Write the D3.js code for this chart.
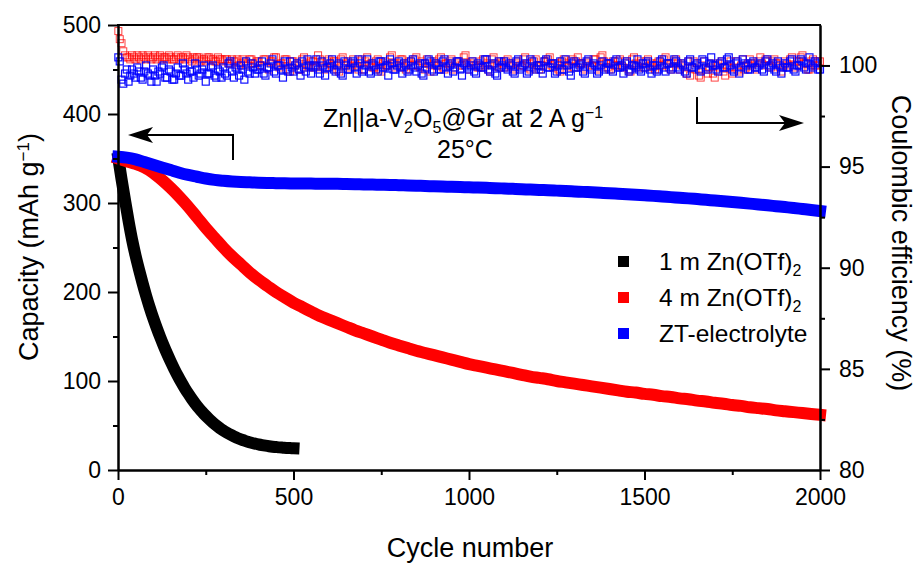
<!DOCTYPE html>
<html>
<head>
<meta charset="utf-8">
<script src="https://cdn.jsdelivr.net/npm/d3@7"></script>
<style>
  html, body { margin: 0; padding: 0; background: #fff; }
  svg text { font-family: "Liberation Sans", Arial, Helvetica, sans-serif; fill: #000; }
</style>
</head>
<body>
<svg id="chart" width="921" height="563"></svg>
<script>
// ---- Discharge capacity (mAh g^-1) ----
// 1 m Zn(OTf)2: cycle 1, then every 10 cycles up to 500
const cap1m = [350, 327, 303, 280, 259, 241, 225, 210, 196, 183,
  171, 160, 149.6, 139.8, 130.6, 121.9, 113.7, 106.0, 98.8, 92.1,
  85.9, 80.1, 74.7, 69.7, 65.1, 60.9, 57.0, 53.4, 50.1, 47.1,
  44.4, 42.0, 39.8, 37.8, 36.0, 34.5, 33.1, 31.8, 30.7, 29.7,
  28.8, 28.0, 27.3, 26.7, 26.2, 25.8, 25.4, 25.1, 24.8, 24.6, 24.4];

// 4 m Zn(OTf)2: cycle 1, then every 25 cycles up to 2000
const cap4m = [350, 347, 344, 340, 334, 326, 317, 307, 296, 284,
  272, 261, 250, 240, 231, 222, 214, 207, 200, 194,
  188, 183, 178, 173, 169, 165, 161, 157, 153.5, 150,
  146.5, 143, 140, 137, 134, 131.5, 129, 126.5, 124, 121.5,
  119, 117, 115, 113, 111, 109, 107, 105, 103.5, 102,
  100, 98.5, 97, 95.5, 94, 92.5, 91, 89.5, 88, 87,
  85.5, 84.5, 83, 82, 80.5, 79.5, 78, 77, 75.5, 74.5,
  73, 72, 70.5, 69.5, 68.5, 67, 66, 65, 64, 63, 62];

// ZT-electrolyte: cycle 1, then every 25 cycles up to 2000
const capZT = [352, 351, 349, 346, 343, 340, 337, 334, 331.5, 329.5,
  327.5, 326, 325, 324.2, 323.6, 323.2, 322.8, 322.5, 322.3, 322.1,
  322, 321.9, 321.8, 321.7, 321.6, 321.5, 321.3, 321.1, 320.9, 320.7,
  320.5, 320.3, 320, 319.7, 319.4, 319.1, 318.8, 318.5, 318.2, 317.9,
  317.6, 317.3, 317, 316.7, 316.3, 315.9, 315.5, 315.1, 314.7, 314.3,
  313.9, 313.5, 313, 312.5, 312, 311.5, 311, 310.4, 309.8, 309.2,
  308.6, 308, 307.3, 306.6, 305.9, 305.2, 304.4, 303.6, 302.8, 302,
  301.1, 300.2, 299.3, 298.4, 297.4, 296.4, 295.4, 294.4, 293.3, 292.2, 291];

// ---- Coulombic efficiency (%): cycle 1, then every 5 cycles up to 2000 ----
const ce4m = [
  101.7, 101.3, 101.1, 100.7, 100.5, 100.4, 100.4, 100.3, 100.5, 100.4, 100.3, 100.5, 100.4, 100.3, 100.5, 100.4, 100.3, 100.5, 100.4, 100.3,
  100.4, 100.5, 100.3, 100.4, 100.5, 100.3, 100.4, 100.4, 100.3, 100.5, 100.4, 100.3, 100.3, 100.4, 100.5, 100.3, 100.4, 100.4, 100.3, 100.5,
  100.4, 100.3, 100.2, 100.4, 100.3, 100.4, 100.4, 100.2, 100.3, 100.3, 100.2, 100.4, 100.4, 100.3, 100.3, 100.2, 100.2, 100.4, 100.3, 100.3,
  100.2, 100.3, 100.3, 100.1, 100.1, 100.3, 100.2, 100.2, 100.3, 100.0, 100.1, 100.3, 100.2, 100.1, 100.0, 100.3, 100.3, 100.1, 100.1, 100.2,
  100.2, 100.0, 100.0, 100.3, 100.3, 99.9, 99.8, 100.2, 100.2, 100.4, 100.4, 100.0, 99.9, 100.1, 100.1, 100.3, 100.3, 99.8, 99.7, 100.2,
  100.2, 100.0, 100.1, 99.8, 99.8, 100.3, 100.4, 100.1, 100.0, 99.9, 100.2, 100.2, 99.9, 100.0, 100.5, 100.3, 100.1, 99.9, 99.8, 100.2,
  100.3, 100.1, 100.0, 100.2, 100.2, 99.8, 99.7, 100.3, 100.4, 100.0, 100.1, 100.2, 99.9, 100.0, 100.3, 100.1, 100.0, 99.8, 100.2, 100.3,
  99.8, 100.2, 100.4, 100.0, 100.1, 99.9, 99.9, 100.2, 100.3, 99.8, 99.7, 100.1, 100.2, 100.0, 100.0, 100.4, 100.5, 100.1, 99.9, 100.0,
  100.1, 100.3, 100.3, 99.9, 99.8, 100.1, 100.2, 100.0, 100.0, 100.3, 100.4, 100.0, 99.9, 100.2, 100.1, 99.8, 100.3, 100.1, 99.7, 100.0,
  100.2, 100.1, 100.0, 100.3, 100.4, 99.9, 99.8, 100.1, 100.1, 100.2, 100.3, 99.8, 99.9, 100.1, 100.2, 100.0, 100.0, 100.4, 100.5, 100.1,
  99.8, 100.1, 100.2, 100.0, 100.0, 99.9, 99.9, 100.2, 100.3, 100.0, 100.1, 99.8, 99.7, 100.3, 100.4, 100.1, 100.0, 99.9, 100.2, 100.1,
  99.9, 100.2, 100.3, 100.0, 100.1, 99.9, 99.8, 100.1, 100.2, 100.0, 100.0, 100.3, 100.4, 100.1, 99.9, 99.8, 100.1, 100.2, 100.3, 100.0,
  99.8, 100.0, 100.0, 100.2, 100.2, 100.3, 100.4, 100.0, 99.9, 100.1, 100.1, 99.8, 99.7, 100.2, 100.3, 100.1, 100.0, 99.9, 100.2, 100.3,
  99.9, 100.2, 100.4, 100.1, 100.1, 99.9, 99.8, 100.1, 100.2, 100.0, 100.0, 100.3, 100.3, 99.8, 99.9, 100.4, 100.5, 100.2, 100.1, 99.9,
  99.8, 100.1, 100.2, 100.0, 100.0, 100.2, 100.3, 100.0, 99.9, 100.2, 100.1, 99.8, 99.7, 100.3, 100.4, 100.1, 100.0, 99.9, 100.2, 100.1,
  99.9, 100.2, 100.3, 100.0, 100.1, 99.9, 99.8, 100.1, 100.2, 100.0, 100.0, 100.3, 100.4, 100.1, 99.9, 99.8, 100.1, 100.2, 100.3, 100.1,
  99.8, 100.0, 100.1, 99.9, 99.6, 100.2, 99.5, 99.9, 100.2, 99.8, 100.1, 99.5, 99.4, 100.0, 100.2, 99.8, 99.6, 99.9, 100.1, 99.6,
  99.4, 100.0, 100.1, 99.9, 100.2, 99.7, 99.5, 100.0, 99.9, 100.2, 99.6, 99.9, 100.2, 99.8, 99.7, 100.0, 100.3, 99.8, 99.9, 100.1,
  100.3, 100.0, 100.1, 99.9, 99.8, 100.2, 100.4, 100.1, 100.0, 100.3, 100.2, 100.0, 99.9, 100.2, 100.3, 100.1, 100.1, 99.9, 99.7, 100.0,
  100.2, 100.1, 100.0, 100.3, 100.4, 100.0, 99.9, 100.2, 100.2, 100.4, 100.5, 100.1, 100.1, 99.8, 99.8, 100.2, 100.3, 100.0, 100.0, 100.2,
  100.2];

const ceZT = [
  100.4, 100.2, 99.3, 99.1, 99.6, 99.8, 99.2, 99.5, 99.8, 99.6, 99.4, 99.9, 99.7, 99.4, 99.3, 99.7, 100.0, 99.6, 99.5, 99.2,
  99.8, 99.5, 99.2, 99.7, 99.6, 99.9, 100.0, 99.4, 99.4, 99.8, 99.7, 99.3, 99.3, 99.6, 99.9, 99.5, 99.5, 100.1, 99.8, 99.6,
  99.3, 99.7, 99.7, 99.4, 100.1, 99.8, 99.5, 99.6, 99.8, 100.0, 99.2, 99.6, 99.6, 99.9, 100.0, 99.5, 99.4, 99.8, 99.7, 99.4,
  99.9, 99.6, 99.5, 100.1, 100.2, 99.7, 99.4, 99.9, 99.8, 99.5, 100.0, 99.8, 99.3, 100.2, 99.7, 99.6, 100.1, 99.9, 99.6, 99.8,
  99.8, 100.0, 100.2, 99.6, 99.5, 99.9, 99.9, 100.1, 100.3, 99.7, 99.6, 100.0, 100.0, 99.8, 99.4, 100.2, 99.8, 99.7, 100.2, 99.9,
  99.7, 100.0, 100.1, 99.8, 99.5, 100.2, 99.9, 99.7, 100.3, 100.0, 99.6, 99.9, 100.0, 100.3, 99.8, 99.6, 100.2, 100.0, 99.5, 99.9,
  99.9, 100.1, 100.3, 99.8, 99.7, 100.0, 100.1, 99.6, 99.5, 100.2, 100.0, 99.8, 99.8, 100.1, 100.2, 99.9, 99.6, 100.3, 100.1, 99.7,
  99.8, 100.0, 100.3, 99.7, 99.6, 100.1, 100.0, 99.8, 99.7, 100.2, 100.2, 99.9, 99.9, 100.0, 99.5, 100.3, 100.1, 99.8, 99.8, 100.0,
  100.2, 99.9, 99.6, 100.1, 100.0, 99.7, 99.8, 100.2, 100.3, 99.9, 99.7, 100.0, 100.1, 99.6, 99.5, 100.1, 99.9, 100.3, 100.2, 99.8,
  99.7, 100.1, 100.0, 99.8, 99.8, 100.2, 100.3, 99.9, 99.6, 100.0, 100.1, 99.7, 99.9, 100.2, 100.2, 99.8, 99.5, 100.1, 100.0, 99.9,
  99.8, 100.0, 100.2, 99.7, 99.6, 100.1, 100.0, 99.9, 99.9, 100.3, 100.3, 99.8, 99.7, 100.0, 100.1, 99.6, 99.5, 100.2, 99.9, 100.0,
  100.2, 99.9, 99.8, 100.1, 100.0, 99.7, 99.6, 100.2, 100.3, 99.8, 99.9, 100.0, 100.1, 99.6, 99.7, 100.3, 100.2, 99.9, 99.8, 100.0,
  100.0, 99.8, 99.6, 100.2, 100.3, 99.9, 99.9, 100.1, 100.1, 99.6, 99.7, 100.0, 100.2, 99.8, 99.8, 100.3, 100.0, 99.7, 99.5, 100.1,
  100.2, 99.9, 99.9, 100.0, 100.1, 99.7, 99.6, 100.2, 100.3, 99.9, 99.8, 100.1, 100.0, 99.6, 99.7, 100.0, 100.2, 99.8, 99.9, 100.1,
  100.1, 99.8, 99.7, 100.2, 100.3, 99.9, 99.9, 100.0, 99.6, 100.1, 100.2, 99.7, 99.8, 100.0, 100.0, 99.9, 100.3, 99.8, 99.7, 100.1,
  99.9, 100.1, 100.2, 99.8, 99.6, 100.0, 100.0, 99.7, 99.8, 100.2, 100.3, 99.9, 99.7, 100.1, 100.1, 99.8, 99.9, 100.3, 100.2, 99.9,
  99.8, 100.1, 100.0, 99.7, 99.6, 100.2, 100.3, 99.9, 99.9, 100.0, 100.1, 99.8, 99.7, 100.3, 100.2, 99.9, 99.8, 100.1, 100.4, 100.0,
  100.0, 99.8, 99.7, 100.1, 100.2, 99.9, 99.9, 100.3, 100.4, 100.0, 99.8, 99.7, 100.1, 100.2, 99.6, 99.9, 100.3, 100.1, 100.0, 99.8,
  99.8, 100.1, 100.2, 99.9, 99.9, 100.0, 100.1, 99.8, 99.7, 100.2, 100.3, 99.9, 100.0, 100.1, 99.8, 99.7, 100.2, 100.0, 99.6, 99.9,
  100.1, 99.9, 99.9, 100.2, 100.3, 99.8, 99.7, 100.0, 100.0, 100.3, 100.2, 99.9, 99.8, 100.1, 100.4, 100.0, 99.9, 100.2, 100.1, 99.8,
  99.8];

// cycle number of the i-th sample taken every `step` cycles (first sample is cycle 1)
const cycleAt = (step, i) => (i === 0 ? 1 : i * step);

// ---- Tick values ----
const xTicks = [0, 500, 1000, 1500, 2000];
const xMinor = [250, 750, 1250, 1750];
const yTicks = [0, 100, 200, 300, 400, 500];
const yMinor = [50, 150, 250, 350, 450];
const y2Ticks = [80, 85, 90, 95, 100];
const y2Minor = [82.5, 87.5, 92.5, 97.5];

const series = [
  { name: "1 m Zn(OTf)", sub: "2", color: "#000000", values: cap1m, step: 10 },
  { name: "4 m Zn(OTf)", sub: "2", color: "#ff0000", values: cap4m, step: 25 },
  { name: "ZT-electrolyte", sub: "", color: "#0000ff", values: capZT, step: 25 }
];

// ---- Layout ----
const L = 118, R = 820, T = 25, B = 470;
const svg = d3.select("#chart");
const x = d3.scaleLinear().domain([0, 2000]).range([L, R]);
const yL = d3.scaleLinear().domain([0, 500]).range([B, T]);
const yR = d3.scaleLinear().domain([80, 102]).range([B, T]);

const FS_TICK = 23, FS_TITLE = 27, FS_LEG = 24.5, FS_NOTE = 25;

// ---- Coulombic efficiency: open squares (4 m underneath, ZT on top) ----
const ceLayer = svg.append("g");
[[ce4m, "#ff0000", 1.0, 0.75], [ceZT, "#0000ff", 1.2, 0.95]].forEach(([vals, col, sw, op]) => {
  const pts = vals.map((v, i) => ({ c: cycleAt(5, i), v }));
  ceLayer.append("g").selectAll("rect").data(pts).join("rect")
    .attr("x", d => x(d.c) - 3.5).attr("y", d => yR(d.v) - 3.5)
    .attr("width", 7).attr("height", 7)
    .attr("fill", "none").attr("stroke", col).attr("stroke-width", sw)
    .attr("stroke-opacity", op);
});

// ---- Capacity: dense runs of filled squares, drawn as a thick band ----
const capLayer = svg.append("g");
const BAND = 12;
series.forEach(s => {
  const pts = s.values.map((v, i) => ({ c: cycleAt(s.step, i), v }));
  const line = d3.line().x(d => x(d.c)).y(d => yL(d.v)).curve(d3.curveMonotoneX);
  capLayer.append("path").datum(pts)
    .attr("d", line).attr("fill", "none")
    .attr("stroke", s.color).attr("stroke-width", BAND)
    .attr("stroke-linecap", "square").attr("stroke-linejoin", "round");
});

// ---- Axes ----
function styleAxis(g) {
  g.selectAll("path, line").attr("stroke", "#000").attr("stroke-width", 2);
  g.selectAll("text").attr("font-size", FS_TICK).attr("fill", "#000")
    .attr("font-family", '"Liberation Sans", Arial, sans-serif');
}
const fmt = d3.format("d");
const xAxis = svg.append("g").attr("transform", `translate(0,${B})`)
  .call(d3.axisBottom(x).tickValues(xTicks).tickFormat(fmt).tickSize(10).tickSizeOuter(0).tickPadding(9));
const xAxisMinor = svg.append("g").attr("transform", `translate(0,${B})`)
  .call(d3.axisBottom(x).tickValues(xMinor).tickSize(5).tickSizeOuter(0).tickFormat(""));
const yAxis = svg.append("g").attr("transform", `translate(${L},0)`)
  .call(d3.axisLeft(yL).tickValues(yTicks).tickFormat(fmt).tickSize(10).tickSizeOuter(0).tickPadding(7));
const yAxisMinor = svg.append("g").attr("transform", `translate(${L},0)`)
  .call(d3.axisLeft(yL).tickValues(yMinor).tickSize(5).tickSizeOuter(0).tickFormat(""));
const y2Axis = svg.append("g").attr("transform", `translate(${R},0)`)
  .call(d3.axisRight(yR).tickValues(y2Ticks).tickFormat(fmt).tickSize(10).tickSizeOuter(0).tickPadding(9));
const y2AxisMinor = svg.append("g").attr("transform", `translate(${R},0)`)
  .call(d3.axisRight(yR).tickValues(y2Minor).tickSize(5).tickSizeOuter(0).tickFormat(""));
[xAxis, xAxisMinor, yAxis, yAxisMinor, y2Axis, y2AxisMinor].forEach(styleAxis);
// top frame line
svg.append("line").attr("x1", L - 1).attr("x2", R + 1).attr("y1", T).attr("y2", T)
  .attr("stroke", "#000").attr("stroke-width", 2);

// ---- Axis titles ----
svg.append("text").attr("x", 470).attr("y", 557).attr("text-anchor", "middle")
  .attr("font-size", FS_TITLE).text("Cycle number");

const yTitle = svg.append("text").attr("transform", "translate(38,247) rotate(-90)")
  .attr("text-anchor", "middle").attr("font-size", FS_TITLE);
yTitle.append("tspan").text("Capacity (mAh g");
yTitle.append("tspan").attr("dy", -9).attr("font-size", 17).text("\u22121");
yTitle.append("tspan").attr("dy", 9).text(")");

svg.append("text").attr("transform", "translate(892,243) rotate(90)")
  .attr("text-anchor", "middle").attr("font-size", FS_TITLE)
  .text("Coulombic efficiency (%)");

// ---- Condition note ----
const note = svg.append("text").attr("x", 463).attr("y", 127)
  .attr("text-anchor", "middle").attr("font-size", FS_NOTE);
note.append("tspan").text("Zn||a-V");
note.append("tspan").attr("dy", 6).attr("font-size", 16).text("2");
note.append("tspan").attr("dy", -6).text("O");
note.append("tspan").attr("dy", 6).attr("font-size", 16).text("5");
note.append("tspan").attr("dy", -6).text("@Gr at 2 A g");
note.append("tspan").attr("dy", -9).attr("font-size", 16).text("\u22121");
svg.append("text").attr("x", 465).attr("y", 158).attr("text-anchor", "middle")
  .attr("font-size", FS_NOTE).text("25\u00B0C");

// ---- Axis-direction arrows ----
function applyAttrs(sel, o) { Object.entries(o).forEach(([k, v]) => sel.attr(k, v)); return sel; }
const arrowStroke = { stroke: "#000", "stroke-width": 2, fill: "none" };
applyAttrs(svg.append("path").attr("d", "M233,160 V135 H140"), arrowStroke);
svg.append("path").attr("d", "M128,135 L153,127 L147,135 L153,143 Z").attr("fill", "#000");
applyAttrs(svg.append("path").attr("d", "M697,97 V123 H792"), arrowStroke);
svg.append("path").attr("d", "M804,123 L779,115 L785,123 L779,131 Z").attr("fill", "#000");

// ---- Legend ----
const legend = svg.append("g");
series.forEach((s, i) => {
  const cy = 261 + i * 36;
  legend.append("rect").attr("x", 618).attr("y", cy - 5).attr("width", 11).attr("height", 11)
    .attr("fill", s.color);
  const t = legend.append("text").attr("x", 659).attr("y", cy).attr("dy", "0.36em")
    .attr("font-size", FS_LEG);
  t.append("tspan").text(s.name);
  if (s.sub) t.append("tspan").attr("dy", 6).attr("font-size", 16).text(s.sub);
});
</script>
</body>
</html>
